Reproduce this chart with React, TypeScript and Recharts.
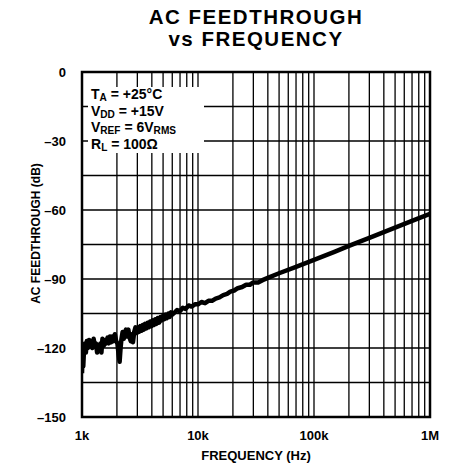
import React from "react";
import {
  LineChart,
  Line,
  XAxis,
  YAxis,
  CartesianGrid,
  Label,
  ReferenceArea,
} from "recharts";

// frequency (Hz) and feedthrough (dB)
const freqs = [
  1000, 1010, 1025, 1040, 1060, 1080, 1100, 1125, 1150, 1175, 1200, 1230,
  1260, 1290, 1320, 1350, 1380, 1410, 1440, 1470, 1500, 1540, 1580, 1620,
  1660, 1700, 1740, 1780, 1820, 1870, 1920, 1970, 2020, 2070, 2110, 2150,
  2190, 2240, 2290, 2340, 2390, 2450, 2510, 2570, 2630, 2690, 2750, 2820,
  2890, 2960, 3030, 3100, 3180, 3260, 3340, 3420, 3500, 3590, 3680, 3770,
  3870, 3970, 4070, 4170, 4280, 4390, 4500, 4620, 4740, 4860, 4990, 5120,
  5250, 5400, 5550, 5700, 5850, 6000, 6300, 6600, 7000, 7400, 7800, 8300,
  8800, 9400, 10000, 10700, 11500, 12300, 13200, 14200, 15300, 16500, 17800,
  19000, 20500, 22000, 24000, 26000, 28000, 30000, 33000, 36000, 40000,
  50000, 70000, 100000, 150000, 200000, 300000, 500000, 700000, 1000000,
];
const feedthroughDb = [
  -131, -124, -128, -121, -118, -122, -117, -120, -116.5, -119, -117, -120,
  -116, -119, -118, -122, -119, -121, -118, -122, -116, -119, -116.5, -118,
  -115.5, -118, -115, -117.5, -115, -117, -114, -117, -118, -123, -126,
  -120, -116, -113, -116, -113.5, -112, -115, -112, -115.5, -117, -114,
  -117.5, -113, -111, -113.5, -111, -113, -110.5, -112.5, -110, -112,
  -109.5, -111.5, -109, -111, -108.5, -110.5, -108, -110, -107.5, -109.5,
  -107, -109, -106.5, -108, -106, -107.5, -105.5, -107, -105, -106.5,
  -104.5, -105.5, -104.5, -103.5, -104, -102.5, -103, -101.5, -102, -101,
  -101, -100, -100.5, -99.5, -99.5, -98.5, -98, -97, -96.5, -95.5, -95,
  -94, -93.5, -92.5, -92.5, -91.5, -91.5, -90.5, -89.5, -87.5, -84.7,
  -81.7, -78.2, -75.6, -72.1, -67.7, -64.7, -61.7,
];

const xTicks = [
  1000, 2000, 3000, 4000, 5000, 6000, 7000, 8000, 9000,
  10000, 20000, 30000, 40000, 50000, 60000, 70000, 80000, 90000,
  100000, 200000, 300000, 400000, 500000, 600000, 700000, 800000, 900000,
  1000000,
];
const xTickLabels: Record<number, string> = {
  1000: "1k",
  10000: "10k",
  100000: "100k",
  1000000: "1M",
};
const yTicks = [-150, -135, -120, -105, -90, -75, -60, -45, -30, -15, 0];
const yLabelled = [-150, -120, -90, -60, -30, 0];

const conditions = [
  { main: "T", sub: "A", rest: " = +25°C", tail: "" },
  { main: "V", sub: "DD", rest: " = +15V", tail: "" },
  { main: "V", sub: "REF", rest: " = 6V", tail: "RMS" },
  { main: "R", sub: "L", rest: " = 100Ω", tail: "" },
];

const data = freqs.map((f, i) => ({ f, db: feedthroughDb[i] }));

const font = '"Liberation Sans", Arial, Helvetica, sans-serif';
const tickStyle = { fill: "#000", fontSize: 13, fontWeight: 700, fontFamily: font };

const fmtY = (v: number) =>
  yLabelled.includes(v) ? (v < 0 ? "\u2013" + Math.abs(v) : String(v)) : "";

const subStyle = { fontSize: "0.72em", position: "relative" as const, top: 2 };

export default function App() {
  return (
    <div
      style={{
        position: "absolute",
        left: 0,
        top: 0,
        width: 456,
        height: 464,
        background: "#fff",
        fontFamily: font,
      }}
    >
      <div
        style={{
          position: "absolute",
          left: 82,
          top: 6,
          width: 348,
          textAlign: "center",
          fontSize: 20.5,
          fontWeight: 700,
          lineHeight: "22px",
          letterSpacing: 1.5,
          color: "#000",
        }}
      >
        AC FEEDTHROUGH
        <br />
        vs FREQUENCY
      </div>

      <LineChart
        width={456}
        height={464}
        data={data}
        margin={{ top: 72, right: 26, bottom: 0, left: 0 }}
      >
        <CartesianGrid stroke="#000" strokeWidth={1.3} />
        <XAxis
          dataKey="f"
          type="number"
          scale="log"
          domain={[1000, 1000000]}
          ticks={xTicks}
          interval={0}
          allowDataOverflow
          tickFormatter={(v: number) => xTickLabels[v] ?? ""}
          tickLine={false}
          axisLine={false}
          tick={tickStyle}
          tickMargin={8}
          height={47}
        >
          <Label
            value="FREQUENCY (Hz)"
            position="insideBottom"
            offset={4}
            style={{ fill: "#000", fontSize: 13, fontWeight: 700, fontFamily: font }}
          />
        </XAxis>
        <YAxis
          type="number"
          domain={[-150, 0]}
          ticks={yTicks}
          interval={0}
          allowDataOverflow
          tickFormatter={fmtY}
          tickLine={false}
          axisLine={false}
          tick={tickStyle}
          tickMargin={10}
          width={82}
        >
          <Label
            content={({ viewBox }: any) => {
              const x = viewBox.x + 36;
              const y = viewBox.y + viewBox.height / 2 - 11;
              return (
                <text
                  x={x}
                  y={y}
                  transform={`rotate(-90, ${x}, ${y})`}
                  textAnchor="middle"
                  dominantBaseline="central"
                  style={{ fill: "#000", fontSize: 12, fontWeight: 700, fontFamily: font }}
                >
                  AC FEEDTHROUGH (dB)
                </text>
              );
            }}
          />
        </YAxis>
        <ReferenceArea
          x1={1000}
          x2={1000000}
          y1={-150}
          y2={0}
          fill="none"
          stroke="#000"
          strokeWidth={2.5}
          ifOverflow="visible"
        />
        <Line
          type="linear"
          dataKey="db"
          stroke="#000"
          strokeWidth={4.5}
          strokeLinejoin="round"
          dot={false}
          isAnimationActive={false}
        />
      </LineChart>

      <div
        style={{
          position: "absolute",
          left: 88,
          top: 87,
          width: 116,
          height: 66,
          background: "#fff",
          paddingLeft: 3,
          boxSizing: "border-box",
          fontSize: 14,
          fontWeight: 700,
          lineHeight: "15.5px",
          color: "#000",
          whiteSpace: "nowrap",
        }}
      >
        {conditions.map((c, i) => (
          <div key={i}>
            {c.main}
            <span style={subStyle}>{c.sub}</span>
            {c.rest}
            {c.tail && <span style={subStyle}>{c.tail}</span>}
          </div>
        ))}
      </div>
    </div>
  );
}
